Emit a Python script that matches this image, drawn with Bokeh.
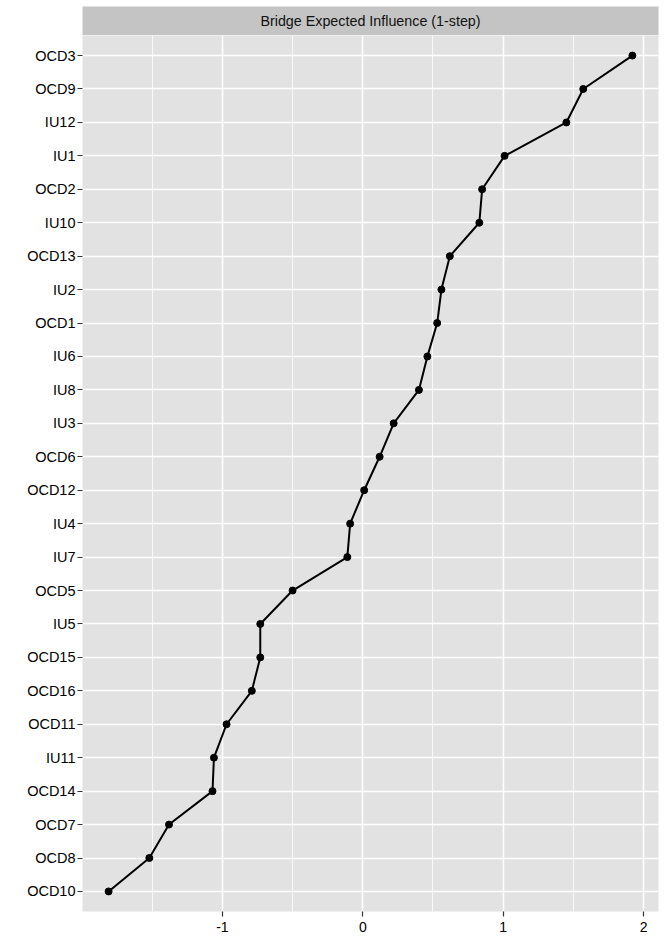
from bokeh.plotting import figure
from bokeh.layouts import column
from bokeh.models import Range1d, FactorRange, FixedTicker
from bokeh.core.properties import value
from bokeh.embed import file_html
from bokeh.resources import INLINE

strip_title = "Bridge Expected Influence (1-step)"

# nodes, top to bottom
nodes = ["OCD3", "OCD9", "IU12", "IU1", "OCD2", "IU10", "OCD13", "IU2", "OCD1",
         "IU6", "IU8", "IU3", "OCD6", "OCD12", "IU4", "IU7", "OCD5", "IU5",
         "OCD15", "OCD16", "OCD11", "IU11", "OCD14", "OCD7", "OCD8", "OCD10"]
bei = [1.92, 1.57, 1.45, 1.01, 0.85, 0.83, 0.62, 0.56, 0.53,
       0.46, 0.40, 0.22, 0.12, 0.01, -0.09, -0.11, -0.50, -0.73,
       -0.73, -0.79, -0.97, -1.06, -1.07, -1.38, -1.52, -1.81]
x_ticks = [-1, 0, 1, 2]
x_tick_labels = ["-1", "0", "1", "2"]
x_minor = [-1.5, -0.5, 0.5, 1.5]

FONT = "Liberation Sans"
PANEL = "#E2E2E2"
STRIP = "#C4C4C4"

# strip figure
s = figure(width=664, height=35, x_range=Range1d(0, 1), y_range=Range1d(0, 1),
           output_backend="svg", toolbar_location=None,
           min_border_left=82, min_border_right=6, min_border_top=6, min_border_bottom=0)
s.axis.visible = False
s.grid.visible = False
s.outline_line_color = None
s.background_fill_color = STRIP
s.border_fill_color = "white"
s.text(x=[0.5], y=[0.5], text=[strip_title], text_align="center", text_baseline="middle",
       text_font=value(FONT), text_font_size="14.3px", text_color="#111111")

# main panel
p = figure(width=664, height=909,
           x_range=Range1d(-1.996, 2.106),
           y_range=FactorRange(factors=nodes[::-1], range_padding=0.1, range_padding_units="absolute"),
           output_backend="svg", toolbar_location=None,
           min_border_left=82, min_border_right=6, min_border_top=0, min_border_bottom=33)
p.background_fill_color = PANEL
p.border_fill_color = "white"
p.outline_line_color = None

p.xaxis.ticker = FixedTicker(ticks=x_ticks, minor_ticks=x_minor)
p.xaxis.major_label_overrides = dict(zip(x_ticks, x_tick_labels))
for ax in (p.xaxis[0], p.yaxis[0]):
    ax.axis_line_color = None
    ax.major_tick_line_color = "#333333"
    ax.major_tick_line_width = 1.2
    ax.major_tick_out = 5
    ax.major_tick_in = 0
    ax.minor_tick_line_color = None
    ax.major_label_text_font = FONT
    ax.major_label_text_color = "#000000"
p.xaxis.major_label_text_font_size = "14px"
p.yaxis.major_label_text_font_size = "14.5px"
p.xaxis.major_label_standoff = 5
p.yaxis.major_label_standoff = 2

p.xgrid.grid_line_color = "white"
p.xgrid.grid_line_width = 1.6
p.xgrid.minor_grid_line_color = "white"
p.xgrid.minor_grid_line_width = 0.8
p.ygrid.grid_line_color = "white"
p.ygrid.grid_line_width = 1.6

p.line(x=bei, y=nodes, line_color="black", line_width=2)
p.scatter(x=bei, y=nodes, size=7, fill_color="black", line_color="black")

layout = column(s, p, spacing=0)
open("out.html", "w").write(file_html(layout, INLINE))
